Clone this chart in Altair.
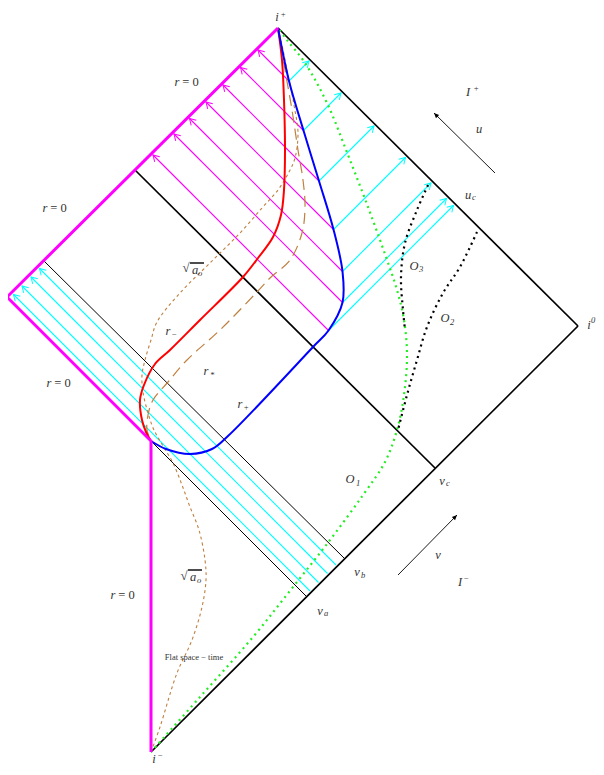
import altair as alt
import pandas as pd

# ---------------- data (page-pixel coordinates) ----------------
# boundaries
r0_x = [278, 7, 151, 151]
r0_y = [28, 297, 441, 752]
scri_plus_x = [278, 578]
scri_plus_y = [28, 326]
scri_minus_x = [151, 578]
scri_minus_y = [752, 326]
vc_x = [135, 435]
vc_y = [170, 468]
vb_x = [44, 345]
vb_y = [261, 559]
va_x = [151, 307]
va_y = [441, 597]

# curves
red_x = [278, 282, 284, 285, 284, 281, 273, 258, 243, 200, 170, 155, 144, 140, 142, 146, 151]
red_y = [28, 60, 100, 150, 190, 215, 237, 258, 277, 320, 350, 364, 385, 400, 420, 432, 441]
blue_x = [278, 289, 303.5, 319, 333.5, 342.5, 342.5, 328.5, 313, 228, 212, 190, 166, 151]
blue_y = [28, 81, 130.5, 181, 229.5, 271.5, 302.5, 330.5, 347, 436, 449, 454, 449, 441]
sqrt_ao_x = [151, 160, 177, 192, 202, 206, 205, 199, 190, 182, 173, 163, 154, 148, 143, 142, 145, 151, 157, 180, 213, 240, 262, 278, 289, 295, 298, 294, 287, 282, 278]
sqrt_ao_y = [752, 727, 673, 640, 607, 580, 560, 530, 507, 485, 463, 446, 430, 413, 392, 375, 360, 340, 322, 293, 260, 233, 208, 190, 172, 158, 133, 105, 70, 45, 28]
rstar_x = [278, 285, 292, 298, 303, 305, 302, 290, 270, 257, 220, 187, 168, 153, 148, 147, 151]
rstar_y = [28, 70, 110, 150, 180, 207, 233, 260, 278, 292, 330, 360, 382, 400, 415, 430, 441]
green_x = [151, 200, 253, 293, 330, 363, 385, 397, 404, 407, 404, 397, 386, 368, 348, 327, 305, 287, 278]
green_y = [752, 697, 637, 587, 540, 495, 462, 430, 395, 355, 320, 290, 257, 207, 155, 103, 63, 40, 28]
o3_x = [428, 417, 405, 401, 403, 405]
o3_y = [185, 210, 243, 277, 310, 330]
o2_x = [477, 460, 443, 427, 417, 407, 398]
o2_y = [232, 267, 293, 327, 360, 395, 430]

# null rays: c = y - x (ingoing lines), d = x + y (outgoing lines)
low_cyan_c = [229, 246, 264, 281]
low_cyan_d_start = 901
edge_left_d = 308          # upper-left r=0 edge
edge_scri_c = -248         # I+ edge
ray_c = [-208, -173, -138, -104, -71, -40, 2]
ray_d = [370, 434, 500, 563, 614, 645, 659]

# u / v direction arrows
u_arrow_x = [495, 434]
u_arrow_y = [173, 113]
v_arrow_x = [398, 457]
v_arrow_y = [575, 515]

# labels
ital_text = ["i", "i", "i", "I", "u", "u", "I", "v", "v", "v", "v",
             "r", "r", "r", "r", "r", "r", "r", "O", "O", "O", "a", "a"]
ital_x = [277, 589, 154, 468, 479, 468, 460, 438, 442, 357, 320,
          177, 45, 49, 113, 168, 206, 240, 414, 445, 350, 195, 193]
ital_y = [17, 325, 759, 92, 129, 195, 582, 555, 481, 572, 611,
          82, 208, 383, 595, 331, 371, 404, 266, 318, 479, 270, 577]
sub_text = ["+", "0", "−", "+", "c", "−", "c", "b", "a", "−", "*", "+", "3", "2", "1", "o", "o"]
sub_x = [283, 593, 160, 476, 474, 466, 448, 363, 326, 174, 212, 246, 421, 452, 358, 200, 199]
sub_y = [13.5, 320, 755, 88, 197, 578, 483, 575, 613, 334, 375, 407, 269, 322, 483, 273, 580]
up_text = ["= 0", "= 0", "= 0", "= 0", "√", "√", "Flat space − time"]
up_x = [190.5, 58.5, 62.5, 126.5, 186, 184, 194]
up_y = [82, 208, 383, 595, 268, 576, 657]
up_size = [12.5, 12.5, 12.5, 12.5, 13, 13, 8.5]
bar_x1 = [190, 188]
bar_x2 = [204, 202]
bar_y = [263, 570]

# ---------------- chart ----------------
W, H = 588, 759
xs = alt.Scale(domain=[8, 8 + W])
ys = alt.Scale(domain=[8, 8 + H], reverse=True)
X = alt.X("x:Q", scale=xs, axis=None)
Y = alt.Y("y:Q", scale=ys, axis=None)


def poly(segs):
    rows = []
    for s, (px, py) in enumerate(segs):
        for i, (a, b) in enumerate(zip(px, py)):
            rows.append({"x": a, "y": b, "seg": s, "ord": i})
    return pd.DataFrame(rows)


def line_layer(df, color, width, dash=None, interp="linear"):
    kw = dict(color=color, strokeWidth=width, interpolate=interp, clip=False)
    if dash:
        kw["strokeDash"] = dash
    return alt.Chart(df).mark_line(**kw).encode(
        x=X, y=Y, detail="seg:N", order="ord:Q")


def nc(c, d):
    return ((d - c) / 2.0, (d + c) / 2.0)


# rays
low_segs, mag_segs, cy_segs = [], [], []
tips_mag, tips_cy = [], []
for c in low_cyan_c:
    p0 = nc(c, low_cyan_d_start)
    p1 = nc(c, edge_left_d)
    low_segs.append(([p0[0], p1[0]], [p0[1], p1[1]]))
    tips_cy.append({"x": p1[0], "y": p1[1], "ang": 225})
for c, d in zip(ray_c, ray_d):
    p0 = nc(c, d)
    p1 = nc(c, edge_left_d)
    p2 = nc(edge_scri_c, d)
    mag_segs.append(([p0[0], p1[0]], [p0[1], p1[1]]))
    cy_segs.append(([p0[0], p2[0]], [p0[1], p2[1]]))
    tips_mag.append({"x": p1[0], "y": p1[1], "ang": 225})
    tips_cy.append({"x": p2[0], "y": p2[1], "ang": 315})

chevron = "M -1 -0.6 L 0 0 L -1 0.6"
tri = "M 0 0 L -1 -0.45 L -1 0.45 Z"


def tips_layer(rows, color, shape, size, filled=False):
    df = pd.DataFrame(rows)
    return alt.Chart(df).mark_point(shape=shape, size=size, filled=filled, color=color,
                                    strokeWidth=1, opacity=1, clip=False).encode(
        x=X, y=Y, angle=alt.Angle("ang:Q", scale=None))


brown = "#bf8040"
layers = [
    line_layer(poly(low_segs), "#00ffff", 1.1),
    line_layer(poly(mag_segs), "#ff00ff", 1.1),
    line_layer(poly(cy_segs), "#00ffff", 1.1),
    tips_layer(tips_mag, "#ff00ff", chevron, 144),
    tips_layer(tips_cy, "#00ffff", chevron, 144),
    line_layer(poly([(scri_plus_x, scri_plus_y), (scri_minus_x, scri_minus_y), (vc_x, vc_y)]), "black", 1.7),
    line_layer(poly([(vb_x, vb_y), (va_x, va_y)]), "black", 1.0),
    line_layer(poly([(sqrt_ao_x, sqrt_ao_y)]), brown, 1.1, dash=[3, 3], interp="catmull-rom"),
    line_layer(poly([(rstar_x, rstar_y)]), brown, 1.2, dash=[11, 6], interp="catmull-rom"),
    line_layer(poly([(green_x, green_y)]), "#22ee22", 2.2, dash=[2, 4], interp="catmull-rom"),
    line_layer(poly([(o3_x, o3_y), (o2_x, o2_y)]), "black", 2.2, dash=[2, 4], interp="catmull-rom"),
    line_layer(poly([(red_x, red_y)]), "#ff0000", 2.0, interp="catmull-rom"),
    line_layer(poly([(blue_x, blue_y)]), "#0000ff", 2.0, interp="catmull-rom"),
    line_layer(poly([(r0_x, r0_y)]), "#ff00ff", 3.0),
    line_layer(poly([(u_arrow_x, u_arrow_y), (v_arrow_x, v_arrow_y)]), "black", 0.9),
    tips_layer([{"x": u_arrow_x[1], "y": u_arrow_y[1], "ang": 225},
                {"x": v_arrow_x[1], "y": v_arrow_y[1], "ang": 315}], "black", tri, 100, filled=True),
]

font = "Liberation Serif"
tcol = "#333333"
ital_df = pd.DataFrame({"t": ital_text, "x": ital_x, "y": ital_y})
sub_df = pd.DataFrame({"t": sub_text, "x": sub_x, "y": sub_y})
up_df = pd.DataFrame({"t": up_text, "x": up_x, "y": up_y, "s": up_size})
bar_df = pd.DataFrame({"x": bar_x1, "x2": bar_x2, "y": bar_y})

layers += [
    alt.Chart(ital_df).mark_text(font=font, fontStyle="italic", fontSize=12.5, color=tcol,
                                 align="center", baseline="middle").encode(x=X, y=Y, text="t:N"),
    alt.Chart(sub_df).mark_text(font=font, fontStyle="italic", fontSize=8.5, color=tcol,
                                align="center", baseline="middle").encode(x=X, y=Y, text="t:N"),
    alt.Chart(up_df).mark_text(font=font, color=tcol, align="center", baseline="middle").encode(
        x=X, y=Y, text="t:N", size=alt.Size("s:Q", scale=None, legend=None)),
    alt.Chart(bar_df).mark_rule(color="black", strokeWidth=1.4).encode(x=X, x2="x2:Q", y=Y),
]

chart = alt.layer(*layers).properties(
    width=W, height=H,
    autosize=alt.AutoSizeParams(type="none"),
    padding={"left": 0, "top": 0, "right": 0, "bottom": 0},
).configure_view(strokeWidth=0)

chart.save("out.html", embed_options={"renderer": "svg", "actions": False})
